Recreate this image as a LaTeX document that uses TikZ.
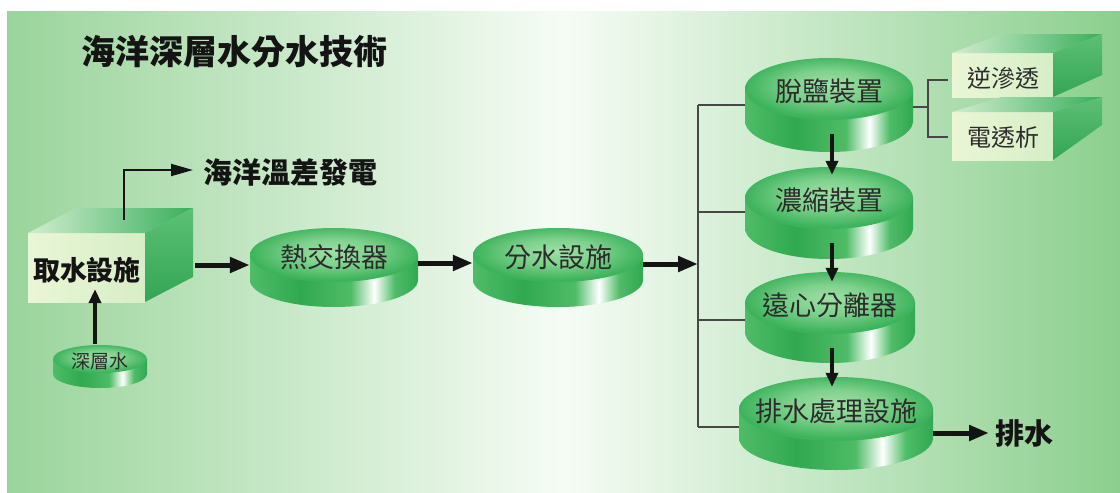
\documentclass[tikz,border=0pt]{standalone}
\usepackage{fontspec}
\newfontfamily\cjk{Noto Sans CJK TC}
\usetikzlibrary{arrows.meta,calc,shapes.geometric}

\definecolor{bgL}{HTML}{9AD49B}
\definecolor{bgM}{HTML}{F6FCF5}
\definecolor{bgR}{HTML}{8CCF8E}
\definecolor{gD}{HTML}{30A950}
\definecolor{gM}{HTML}{4FBC66}
\definecolor{gL}{HTML}{9EDFA6}
\definecolor{gTop}{HTML}{3DB35C}
\definecolor{frontL}{HTML}{EAF6D6}
\definecolor{frontR}{HTML}{D6EEC6}
\definecolor{faceTopL}{HTML}{D2EDCF}
\definecolor{faceTopR}{HTML}{38AF5C}
\definecolor{sideT}{HTML}{5DC074}
\definecolor{sideB}{HTML}{33A555}
\definecolor{txt}{HTML}{2C2C2C}

\pgfdeclarehorizontalshading{bgshade}{100bp}{color(0bp)=(bgL); color(25bp)=(bgL); color(50bp)=(bgM); color(75bp)=(bgR); color(100bp)=(bgR)}
\pgfdeclarehorizontalshading{sideshade}{100bp}{color(0bp)=(gM); color(25bp)=(gM); color(40bp)=(gD); color(55bp)=(gM); color(62bp)=(white); color(68bp)=(gM); color(75bp)=(gD); color(100bp)=(gD)}
\pgfdeclareradialshading{topshade}{\pgfpoint{0bp}{4bp}}{color(0bp)=(gL); color(12bp)=(gL!60!gM); color(25bp)=(gTop); color(50bp)=(gTop)}

\tikzset{
  disktext/.style={rectangle, inner sep=0pt, text=txt},
  bigarrow/.style={line width=5pt, draw=black!92, -{Triangle[length=20pt,width=15pt]}},
  midarrow/.style={line width=4pt, draw=black!92, -{Triangle[length=14pt,width=12pt]}},
  thinarrow/.style={line width=2pt, draw=black!92, -{Triangle[length=22pt,width=12pt]}},
  busline/.style={line width=2pt, draw=black!72},
  boldlabel/.style={inner sep=0pt, text=black!92},
  facetext/.style={inner sep=0pt, text=txt},
}

% name, cx, cy, rx, ry, thickness, text, font size
\newcommand{\mydisk}[8]{%
  \shade[shading=sideshade] (#2-#4,#3) rectangle (#2+#4,#3+#6);
  \shade[shading=sideshade] (#2,#3+#6) ellipse [x radius=#4pt, y radius=#5pt];
  \shade[shading=topshade] (#2,#3) ellipse [x radius=#4pt, y radius=#5pt];
  \node[disktext, minimum width={2*#4pt}, minimum height={2*#5pt},
        font=\cjk\fontsize{#8pt}{#8pt}\selectfont] (#1) at (#2,#3+2) {#7};
}

\begin{document}
\begin{tikzpicture}[x=1pt,y=-1pt]
\useasboundingbox (0,0) rectangle (1120,493);
\fill[white] (0,0) rectangle (1120,493);
\shade[shading=bgshade] (7,11) rectangle (1120,493);

% title
\node[boldlabel, anchor=west, font=\cjk\bfseries\fontsize{34pt}{34pt}\selectfont] (title) at (81,52) {海洋深層水分水技術};

% intake box
\shade[left color=frontL, right color=frontR] (28,233) rectangle (145,302);
\shade[left color=faceTopL, right color=faceTopR] (28,233) -- (76,208) -- (193,208) -- (145,233) -- cycle;
\shade[top color=sideT, bottom color=sideB] (145,233) -- (193,208) -- (193,277) -- (145,302) -- cycle;
\node[boldlabel, font=\cjk\bfseries\fontsize{27pt}{27pt}\selectfont] (qs) at (87,270) {取水設施};

% OTEC label
\node[boldlabel, anchor=west, font=\cjk\bfseries\fontsize{29pt}{29pt}\selectfont] (te) at (203,172) {海洋溫差發電};
\coordinate (tstart) at (124,220);
\draw[thinarrow] (tstart) |- ($(te.west)+(-10,-2)$);

% disks
\mydisk{sw}{100}{359}{47}{14}{15}{深層水}{19}
\mydisk{ht}{334}{255}{84}{27}{25}{熱交換器}{27}
\mydisk{fs}{558}{255}{85}{27}{25}{分水設施}{27}
\mydisk{d1}{829}{89}{84}{31}{32}{脫鹽裝置}{27}
\mydisk{d2}{829}{198}{84}{31}{30}{濃縮裝置}{27}
\mydisk{d3}{830}{303}{85}{31}{29}{遠心分離器}{27}
\mydisk{d4}{836}{409}{97}{32}{29}{排水處理設施}{27}

% RO / ED boxes
\shade[left color=frontL, right color=frontR] (952,53) rectangle (1053,97);
\shade[left color=faceTopL, right color=faceTopR] (952,53) -- (1001,34) -- (1102,34) -- (1053,53) -- cycle;
\shade[top color=sideT, bottom color=sideB] (1053,53) -- (1102,34) -- (1102,75) -- (1053,97) -- cycle;
\node[facetext, font=\cjk\fontsize{24pt}{24pt}\selectfont] (ro) at (1003,78) {逆滲透};

\shade[left color=frontL, right color=frontR] (952,112) rectangle (1053,160);
\shade[left color=faceTopL, right color=faceTopR] (952,112) -- (1001,97) -- (1102,97) -- (1053,112) -- cycle;
\shade[top color=sideT, bottom color=sideB] (1053,112) -- (1102,97) -- (1102,125) -- (1053,160) -- cycle;
\node[facetext, font=\cjk\fontsize{24pt}{24pt}\selectfont] (ed) at (1003,137) {電透析};

% main flow arrows
\draw[midarrow] ($(sw.north)+(-5,-3)$) -- ($(qs.south)+(8,6)$);
\coordinate (qsout) at (195,265);
\draw[bigarrow] (qsout) -- ($(ht.west)+(0,8)$);
\draw[bigarrow] ($(ht.east)+(0,6)$) -- ($(fs.west)+(0,6)$);
\coordinate (j0) at (698,264);
\draw[bigarrow] ($(fs.east)+(0,7)$) -- (j0);

% bus
\coordinate (j1) at (698,105);
\coordinate (j2) at (698,212);
\coordinate (j3) at (698,320);
\coordinate (j4) at (698,427);
\draw[busline] (j1) -- (j4);
\draw[busline] (j1) -- (j1 -| d1.west);
\draw[busline] (j2) -- (j2 -| d2.west);
\draw[busline] (j3) -- (j3 -| d3.west);
\draw[busline] (j4) -- (j4 -| d4.west);

% bracket
\coordinate (bk) at (928,107);
\draw[busline] (bk -| d1.east) -- (bk);
\draw[busline] (948,80) -- (928,80) -- (928,137) -- (948,137);

% vertical arrows
\draw[midarrow] ($(d1.south)+(3,12)$) -- ($(d2.north)+(3,6)$);
\draw[midarrow] ($(d2.south)+(3,12)$) -- ($(d3.north)+(2,8)$);
\draw[midarrow] ($(d3.south)+(2,12)$) -- ($(d4.north)+(-4,8)$);

% drain
\node[boldlabel, anchor=west, font=\cjk\bfseries\fontsize{29pt}{29pt}\selectfont] (dr) at (995,433) {排水};
\draw[bigarrow] ($(d4.east)+(0,22)$) -- ($(dr.west)+(-6,0)$);
\end{tikzpicture}
\end{document}
